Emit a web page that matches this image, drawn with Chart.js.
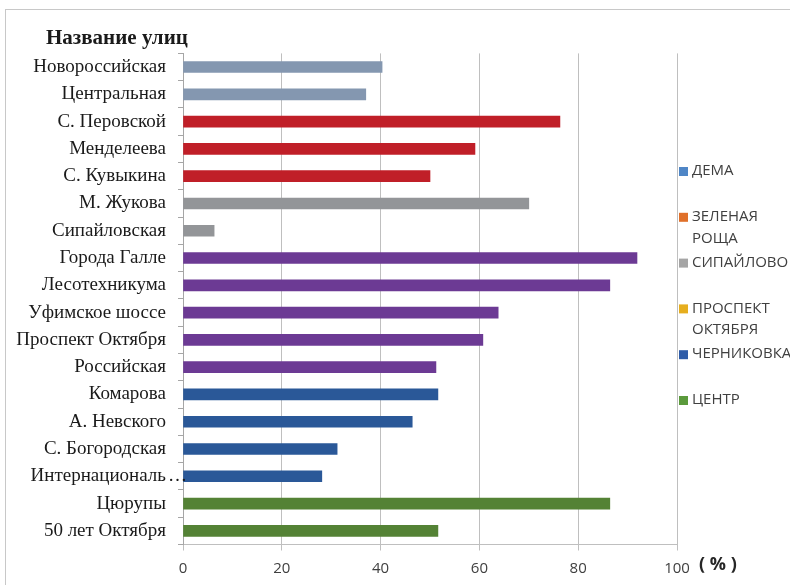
<!DOCTYPE html>
<html>
<head>
<meta charset="utf-8">
<script src="https://cdn.jsdelivr.net/npm/chart.js@4.4.1/dist/chart.umd.min.js"></script>
<style>
  body { margin: 0; background: #fff; }
  #streets { display: block; }
</style>
</head>
<body>
<canvas id="streets" width="790" height="585"></canvas>
<script>
// streets, top to bottom
const streets = [
  'Новороссийская', 'Центральная', 'С. Перовской', 'Менделеева', 'С. Кувыкина',
  'М. Жукова', 'Сипайловская', 'Города Галле', 'Лесотехникума', 'Уфимское шоссе',
  'Проспект Октября', 'Российская', 'Комарова', 'А. Невского', 'С. Богородская',
  'Интернациональ…', 'Цюрупы', '50 лет Октября'
];
// share per street, %
const shares = [
  40.3, 37.0, 76.3, 59.1, 50.0,
  70.0, 6.3, 91.9, 86.4, 63.8,
  60.7, 51.2, 51.6, 46.4, 31.2,
  28.1, 86.4, 51.6
];
const districts = ['ДЕМА', ['ЗЕЛЕНАЯ', 'РОЩА'], 'СИПАЙЛОВО', ['ПРОСПЕКТ', 'ОКТЯБРЯ'], 'ЧЕРНИКОВКА', 'ЦЕНТР'];
const xTicks = [0, 20, 40, 60, 80, 100];

const barColors = [
  '#8497B0', '#8497B0', '#C01F28', '#C01F28', '#C01F28',
  '#939598', '#939598', '#6C3A94', '#6C3A94', '#6C3A94',
  '#6C3A94', '#6C3A94', '#2A5898', '#2A5898', '#2A5898',
  '#2A5898', '#548235', '#548235'
];
const districtColors = ['#4F86C6', '#E0702A', '#A5A5A5', '#E6AE1E', '#2E5CA8', '#5B9A3C'];

const serif = '"Liberation Serif", "Times New Roman", serif';
const sans = '"Open Sans", sans-serif';

const decorations = {
  id: 'decorations',
  beforeDraw(chart) {
    const ctx = chart.ctx;
    ctx.save();
    ctx.strokeStyle = '#C8C8C8';
    ctx.lineWidth = 1;
    ctx.strokeRect(5.5, 9.5, 900, 900);
    ctx.restore();
  },
  afterDraw(chart) {
    const ctx = chart.ctx;
    const yScale = chart.scales.y;
    ctx.save();
    ctx.fillStyle = '#1a1a1a';
    ctx.textBaseline = 'alphabetic';
    ctx.font = 'bold 21px ' + serif;
    ctx.fillText('Название улиц', 46, 44);

    // truncated street names: the ellipsis runs past the label column
    ctx.font = '19px ' + serif;
    ctx.textBaseline = 'middle';
    streets.forEach((name, i) => {
      if (name.endsWith('…')) {
        ctx.fillText('…', 168, yScale.getPixelForTick(i));
      }
    });

    ctx.fillStyle = '#262626';
    ctx.font = 'bold 18px ' + sans;
    ctx.fillText('( % )', 699, 565);

    // legend
    ctx.font = '15px ' + sans;
    districts.forEach((name, i) => {
      const y = 171 + i * 45.8;
      ctx.fillStyle = districtColors[i];
      ctx.fillRect(679, y - 4, 9, 9);
      ctx.fillStyle = '#404040';
      const lines = Array.isArray(name) ? name : [name];
      lines.forEach((line, j) => ctx.fillText(line, 692, y + j * 21.5));
    });
    ctx.restore();
  }
};

new Chart(document.getElementById('streets'), {
  type: 'bar',
  data: {
    labels: streets,
    datasets: [{
      data: shares,
      backgroundColor: barColors,
      barThickness: 11
    }]
  },
  options: {
    indexAxis: 'y',
    responsive: false,
    animation: false,
    layout: { padding: { top: 53.4, right: 113, bottom: 7.5, left: 0 } },
    plugins: {
      legend: { display: false },
      tooltip: { enabled: false }
    },
    scales: {
      x: {
        min: 0,
        max: 100,
        afterBuildTicks(scale) {
          scale.ticks = xTicks.map(v => ({ value: v }));
        },
        afterFit(scale) { scale.height = 33; },
        ticks: {
          color: '#404040',
          font: { family: sans, size: 15 },
          padding: 9,
          maxRotation: 0
        },
        grid: { color: '#BFBFBF', tickLength: 6 },
        border: { color: '#BFBFBF' }
      },
      y: {
        afterFit(scale) { scale.width = 183; },
        ticks: {
          color: '#1a1a1a',
          font: { family: serif, size: 19 },
          padding: 12,
          autoSkip: false,
          callback(value, i) {
            return streets[i].replace(/…$/, '');
          }
        },
        grid: { offset: true, drawOnChartArea: false, tickLength: 5, color: '#A6A6A6' },
        border: { color: '#A6A6A6' }
      }
    }
  },
  plugins: [decorations]
});
</script>
</body>
</html>
